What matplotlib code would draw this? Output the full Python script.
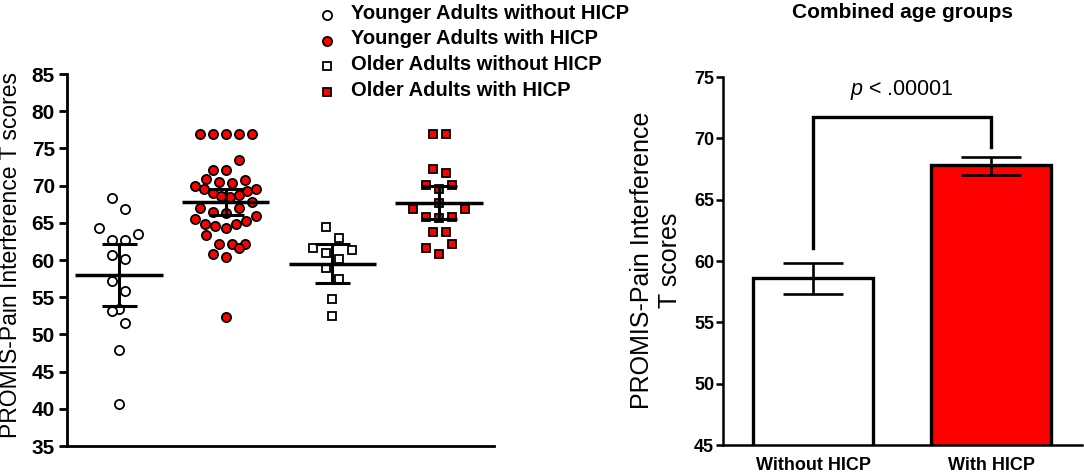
import numpy as np
import matplotlib
matplotlib.use('Agg')
import matplotlib.pyplot as plt
from matplotlib.lines import Line2D

plt.rcParams['font.family'] = 'Liberation Sans'
plt.rcParams['mathtext.fontset'] = 'custom'
plt.rcParams['mathtext.rm'] = 'Liberation Sans'
plt.rcParams['mathtext.it'] = 'Liberation Sans:italic'

# Данные: левая панель (индивидуальные значения)
young_without = [68.4, 66.9, 64.3, 63.5, 62.7, 62.7, 60.7, 60.2, 57.2, 55.9,
                 53.4, 53.1, 51.5, 47.9, 40.7]
young_with = [77, 77, 77, 77, 77, 73.5, 72.1, 72.1, 70.9, 70.75, 70.5, 70.3,
              69.9, 69.6, 69.5, 69.3, 69.0, 68.8, 68.6, 68.5, 67.8, 66.95,
              66.95, 66.5, 66.3, 65.9, 65.5, 65.2, 64.9, 64.8, 64.6, 64.3,
              63.4, 62.2, 62.2, 62.2, 61.6, 60.8, 60.4, 52.4]
older_without = [64.4, 63.0, 61.65, 61.3, 60.9, 60.1, 58.9, 57.5, 54.7, 52.5]
older_with = [76.9, 76.9, 72.2, 71.7, 70.1, 70.1, 69.6, 67.6, 66.9, 66.9,
              65.8, 65.8, 65.6, 63.8, 63.8, 62.1, 61.6, 60.8]

group_labels = ['Younger Adults without HICP', 'Younger Adults with HICP',
                'Older Adults without HICP', 'Older Adults with HICP']
group_means = [58.0, 67.8, 59.5, 67.7]
group_ci_low = [53.8, 66.1, 56.9, 65.5]
group_ci_high = [62.2, 69.6, 62.2, 69.95]

# Данные: правая панель (объединённые группы)
bar_labels = ['Without HICP', 'With HICP']
bar_means = [58.6, 67.8]
bar_err_low = [57.3, 67.05]
bar_err_high = [59.8, 68.45]
bracket_left, bracket_top, bracket_right = 61.1, 71.7, 69.3
p_text_y = 73.9

W, H = 1084, 474
fig = plt.figure(figsize=(W / 100, H / 100), dpi=100)


def fx(px):
    return px / W


def fy(py):
    return 1 - py / H


def column_scatter(vals, bin_h, step, max_w):
    """Раскладка точек по рядам (как в GraphPad): смещения по x в пикселях"""
    vals = np.asarray(vals, dtype=float)
    order = np.argsort(vals, kind='stable')
    xs = np.zeros(len(vals))
    k = 0
    while k < len(order):
        start = vals[order[k]]
        row = []
        while k < len(order) and vals[order[k]] <= start + bin_h + 1e-9:
            row.append(order[k])
            k += 1
        n = len(row)
        s = step if n < 2 else min(step, max_w / (n - 1))
        slots = (np.arange(n) - (n - 1) / 2.0) * s
        if n % 2:
            slots = sorted(slots, key=lambda v: (abs(v), v))
        else:
            slots = sorted(slots, key=lambda v: (abs(v), -v))
        for idx, sx in zip(row, slots):
            xs[idx] = sx
    return xs


# Левая панель
ax1 = fig.add_axes([fx(67), fy(446), fx(427), 372 / H])
ax1.set_xlim(-0.486, 3.514)
ax1.set_ylim(35, 85)
px_per_x = 427 / 4.0

styles = [
    dict(marker='o', mfc='white', ms=6.6),
    dict(marker='o', mfc='#ff0000', ms=6.6),
    dict(marker='s', mfc='white', ms=6.0),
    dict(marker='s', mfc='#ff0000', ms=6.0),
]
groups = [young_without, young_with, older_without, older_with]

for i, (vals, st) in enumerate(zip(groups, styles)):
    offs = column_scatter(vals, 1.65, 13.0, 61.0) / px_per_x
    ax1.plot(i + offs, vals, linestyle='none', mec='black', mew=1.3,
             zorder=2, **st)
    ax1.hlines(group_means[i], i - 0.41, i + 0.41, color='black', lw=2.5, zorder=3)
    ax1.errorbar([i], [group_means[i]],
                 yerr=[[group_means[i] - group_ci_low[i]], [group_ci_high[i] - group_means[i]]],
                 fmt='none', ecolor='black', elinewidth=2.2, capsize=12.6, capthick=2.2,
                 zorder=3)

ax1.set_yticks(np.arange(35, 86, 5))
ax1.set_xticks([])
ax1.spines['top'].set_visible(False)
ax1.spines['right'].set_visible(False)
ax1.spines['left'].set_linewidth(2)
ax1.spines['bottom'].set_linewidth(2)
ax1.tick_params(axis='y', length=5.8, width=2, pad=3, labelsize=15)
for t in ax1.get_yticklabels():
    t.set_fontweight('bold')

fig.text(fx(11), fy(255), 'PROMIS-Pain Interference T scores', rotation=90,
         ha='center', va='center', fontsize=16.5)

# Легенда
legend_rows = [15, 40.5, 66, 91.5]
for lab, st, ry in zip(group_labels, styles, legend_rows):
    fig.add_artist(Line2D([fx(327)], [fy(ry)], transform=fig.transFigure,
                          linestyle='none', mec='black', mew=1.3, **st))
    fig.text(fx(351), fy(ry - 1.5), lab, ha='left', va='center',
             fontsize=14.5, fontweight='bold')

# Правая панель
ax2 = fig.add_axes([fx(723), fy(445), fx(359), 368 / H])
ax2.set_xlim(-0.506, 1.51)
ax2.set_ylim(45, 75)
xb = np.arange(len(bar_means))
ax2.bar(xb, bar_means, width=0.674, color=['white', '#ff0000'],
        edgecolor='black', linewidth=2.4, zorder=2)
ax2.errorbar(xb, bar_means,
             yerr=[np.array(bar_means) - np.array(bar_err_low),
                   np.array(bar_err_high) - np.array(bar_means)],
             fmt='none', ecolor='black', elinewidth=1.9, capsize=21.6, capthick=1.9,
             zorder=3)
ax2.plot([0, 0, 1, 1], [bracket_left, bracket_top, bracket_top, bracket_right],
         color='black', lw=2.4, solid_joinstyle='miter', zorder=3)
ax2.text(0.5, p_text_y, r'$\mathit{p}$ < .00001', ha='center', va='center',
         fontsize=15.5)

ax2.set_yticks(np.arange(45, 76, 5))
ax2.set_xticks(xb)
ax2.set_xticklabels(bar_labels, fontweight='bold', fontsize=13)
ax2.spines['top'].set_visible(False)
ax2.spines['right'].set_visible(False)
ax2.spines['left'].set_linewidth(1.8)
ax2.spines['bottom'].set_linewidth(1.8)
ax2.tick_params(axis='y', length=4.8, width=1.8, pad=1.5, labelsize=13)
ax2.tick_params(axis='x', length=0, pad=9)
for t in ax2.get_yticklabels():
    t.set_fontweight('bold')

fig.text(fx(656), fy(260), 'PROMIS-Pain Interference\nT scores', rotation=90,
         ha='center', va='center', fontsize=18, multialignment='center')
fig.text(fx(902), fy(12), 'Combined age groups', ha='center', va='center',
         fontsize=15, fontweight='bold')

fig.savefig('out.png', dpi=100)
